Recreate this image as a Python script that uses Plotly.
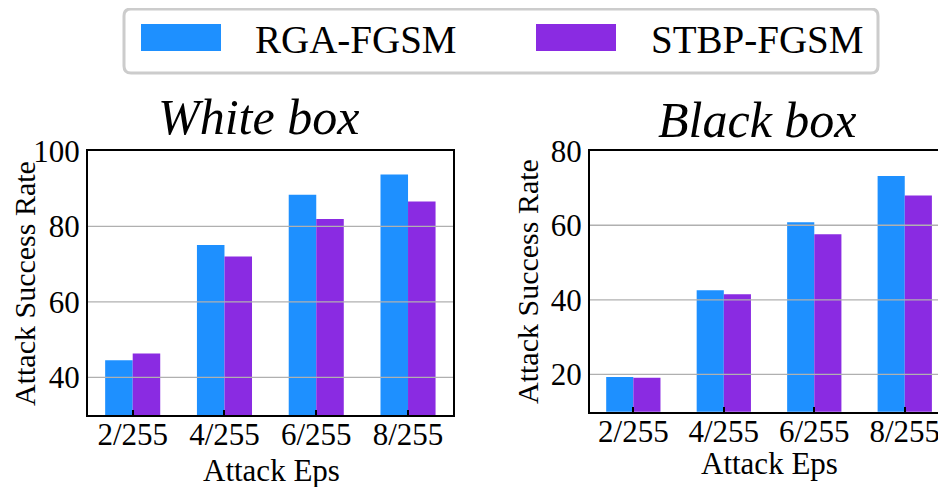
import plotly.graph_objects as go

W, H = 946, 487
OFF = 8  # page body margin

categories = ["2/255", "4/255", "6/255", "8/255"]
white_rga = [44.5, 75.1, 88.4, 93.8]
white_stbp = [46.3, 72.0, 82.0, 86.6]
black_rga = [19.3, 42.6, 60.8, 73.2]
black_stbp = [19.1, 41.5, 57.6, 68.0]
white_ticks = [40, 60, 80, 100]
black_ticks = [20, 40, 60, 80]
series_names = ["RGA-FGSM", "STBP-FGSM"]
colors = ["#1E90FF", "#8A2BE2"]
FONT = "Liberation Serif, Times New Roman, serif"


def px(x):
    return (x - OFF) / W


def py(y):
    return 1 - (y - OFF) / H


xidx = list(range(len(categories)))

fig = go.Figure()
fig.add_trace(go.Bar(x=xidx, y=white_rga, marker_color=colors[0], name=series_names[0],
                     xaxis="x", yaxis="y", offsetgroup="a", marker_line_width=0))
fig.add_trace(go.Bar(x=xidx, y=white_stbp, marker_color=colors[1], name=series_names[1],
                     xaxis="x", yaxis="y", offsetgroup="b", marker_line_width=0))
fig.add_trace(go.Bar(x=xidx, y=black_rga, marker_color=colors[0], name=series_names[0],
                     xaxis="x2", yaxis="y2", offsetgroup="a", marker_line_width=0))
fig.add_trace(go.Bar(x=xidx, y=black_stbp, marker_color=colors[1], name=series_names[1],
                     xaxis="x2", yaxis="y2", offsetgroup="b", marker_line_width=0))

tickfont = dict(family=FONT, size=31, color="black")
common_x = dict(tickmode="array", tickvals=xidx, ticktext=categories, ticks="inside",
                ticklen=5, tickwidth=2, tickcolor="black", showline=True, linecolor="black",
                linewidth=2, showgrid=False, tickfont=tickfont, zeroline=False,
                automargin=False, mirror=True, ticklabelstandoff=-9)
common_y = dict(tickmode="array", ticks="", showline=True, linecolor="black",
                linewidth=2, showgrid=False, tickfont=tickfont, zeroline=False,
                automargin=False, mirror=True)

fig.update_layout(
    width=W, height=H, margin=dict(l=0, r=0, t=0, b=0, autoexpand=False),
    paper_bgcolor="white", plot_bgcolor="white",
    barmode="group", bargap=0.4, bargroupgap=0, showlegend=False,
    xaxis=dict(domain=[px(88), px(453)], range=[-0.487, 3.49], anchor="y", **common_x),
    yaxis=dict(domain=[py(415), py(151)], range=[30, 100], tickvals=white_ticks, anchor="x",
               **common_y),
    xaxis2=dict(domain=[px(590), px(948)], range=[-0.479, 3.478], anchor="y2", **common_x),
    yaxis2=dict(domain=[py(411.7), py(150.7)], range=[10, 80], tickvals=black_ticks, anchor="x2",
                **common_y),
)

shapes = []
# gridlines drawn above bars
for t in white_ticks[:-1]:
    shapes.append(dict(type="line", xref="x domain", yref="y", x0=0, x1=1, y0=t, y1=t,
                       line=dict(color="#b0b0b0", width=1.3), layer="above"))
for t in black_ticks[:-1]:
    shapes.append(dict(type="line", xref="x2 domain", yref="y2", x0=0, x1=1, y0=t, y1=t,
                       line=dict(color="#b0b0b0", width=1.3), layer="above"))

# legend box (rounded)
x0, x1, y0, y1, r = 124, 878, 9, 73, 7
path = (f"M {px(x0 + r)},{py(y0)} L {px(x1 - r)},{py(y0)} "
        f"Q {px(x1)},{py(y0)} {px(x1)},{py(y0 + r)} L {px(x1)},{py(y1 - r)} "
        f"Q {px(x1)},{py(y1)} {px(x1 - r)},{py(y1)} L {px(x0 + r)},{py(y1)} "
        f"Q {px(x0)},{py(y1)} {px(x0)},{py(y1 - r)} L {px(x0)},{py(y0 + r)} "
        f"Q {px(x0)},{py(y0)} {px(x0 + r)},{py(y0)} Z")
shapes.append(dict(type="path", xref="paper", yref="paper", path=path,
                   line=dict(color="#cccccc", width=3), fillcolor="rgba(255,255,255,0.8)"))
# legend swatches
for (sx0, sx1), c in zip([(141, 221), (536, 616)], colors):
    shapes.append(dict(type="rect", xref="paper", yref="paper", x0=px(sx0), x1=px(sx1),
                       y0=py(51), y1=py(24), fillcolor=c, line=dict(width=0)))
fig.update_layout(shapes=shapes)

ann = []
for txt, x in zip(series_names, [253, 649]):
    ann.append(dict(text=txt, x=px(x), y=py(39), xref="paper", yref="paper", xanchor="left",
                    yanchor="middle", showarrow=False, font=dict(family=FONT, size=39, color="black")))
ann.append(dict(text="<i>White box</i>", x=px(258.5), y=py(117), xref="paper", yref="paper",
                xanchor="center", yanchor="middle", showarrow=False,
                font=dict(family=FONT, size=50, color="black")))
ann.append(dict(text="<i>Black box</i>", x=px(757.5), y=py(120), xref="paper", yref="paper",
                xanchor="center", yanchor="middle", showarrow=False,
                font=dict(family=FONT, size=50, color="black")))
for x, y in [(24.5, 283.5), (527, 282)]:
    ann.append(dict(text="Attack Success Rate", x=px(x), y=py(y), xref="paper", yref="paper",
                    xanchor="center", yanchor="middle", textangle=-90, showarrow=False,
                    font=dict(family=FONT, size=30, color="black")))
for x, y in [(271, 470), (769, 463)]:
    ann.append(dict(text="Attack Eps", x=px(x), y=py(y), xref="paper", yref="paper",
                    xanchor="center", yanchor="middle", showarrow=False,
                    font=dict(family=FONT, size=31, color="black")))
fig.update_layout(annotations=ann)

fig.write_html("out.html")
